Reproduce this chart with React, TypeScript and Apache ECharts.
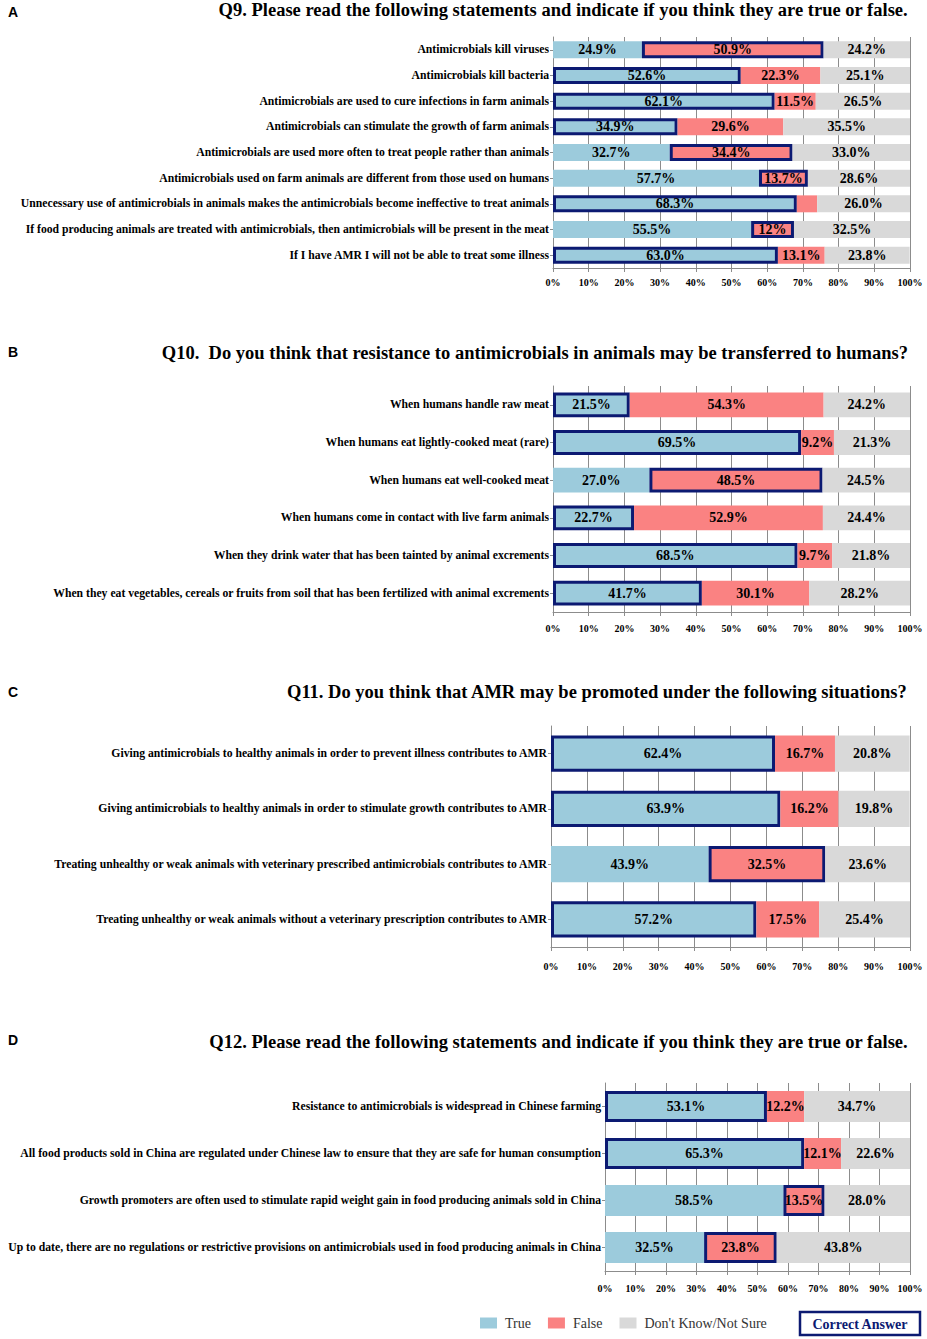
import React, { useEffect, useRef } from "react";
import * as echarts from "echarts";

// ---------- DATA ----------
const q9Categories = [
  "Antimicrobials kill viruses",
  "Antimicrobials kill bacteria",
  "Antimicrobials are used to cure infections in farm animals",
  "Antimicrobials can stimulate the growth of farm animals",
  "Antimicrobials are used more often to treat people rather than animals",
  "Antimicrobials used on farm animals are different from those used on humans",
  "Unnecessary use of antimicrobials in animals makes the antimicrobials become ineffective to treat animals",
  "If food producing animals are treated with antimicrobials, then antimicrobials will be present in the meat",
  "If I have AMR I will not be able to treat some illness",
];
const q9True = [24.9, 52.6, 62.1, 34.9, 32.7, 57.7, 68.3, 55.5, 63.0];
const q9False = [50.9, 22.3, 11.5, 29.6, 34.4, 13.7, 5.7, 12.0, 13.1];
const q9Unsure = [24.2, 25.1, 26.5, 35.5, 33.0, 28.6, 26.0, 32.5, 23.8];
const q9Correct = ["False", "True", "True", "True", "False", "False", "True", "False", "True"];
// label text overrides for the False series of Q9 (null = default)
const q9FalseLabelText = [null, null, null, null, null, null, "", "12%", null];

const q10Categories = [
  "When humans handle raw meat",
  "When humans eat lightly-cooked meat (rare)",
  "When humans eat well-cooked meat",
  "When humans come in contact with live farm animals",
  "When they drink water that has been tainted by animal excrements",
  "When they eat vegetables, cereals or fruits from soil that has been fertilized with animal excrements",
];
const q10True = [21.5, 69.5, 27.0, 22.7, 68.5, 41.7];
const q10False = [54.3, 9.2, 48.5, 52.9, 9.7, 30.1];
const q10Unsure = [24.2, 21.3, 24.5, 24.4, 21.8, 28.2];
const q10Correct = ["True", "True", "False", "True", "True", "True"];

const q11Categories = [
  "Giving antimicrobials to healthy animals in order to prevent illness contributes to AMR",
  "Giving antimicrobials to healthy animals in order to stimulate growth contributes to AMR",
  "Treating unhealthy or weak animals with veterinary prescribed antimicrobials contributes to AMR",
  "Treating unhealthy or weak animals without a veterinary prescription contributes to AMR",
];
const q11True = [62.4, 63.9, 43.9, 57.2];
const q11False = [16.7, 16.2, 32.5, 17.5];
const q11Unsure = [20.8, 19.8, 23.6, 25.4];
const q11Correct = ["True", "True", "False", "True"];

const q12Categories = [
  "Resistance to antimicrobials is widespread in Chinese farming",
  "All food products sold in China are regulated under Chinese law to ensure that they are safe for human consumption",
  "Growth promoters are often used to stimulate rapid weight gain in food producing animals sold in China",
  "Up to date, there are no regulations or restrictive provisions on antimicrobials used in food producing animals in China",
];
const q12True = [53.1, 65.3, 58.5, 32.5];
const q12False = [12.2, 12.1, 13.5, 23.8];
const q12Unsure = [34.7, 22.6, 28.0, 43.8];
const q12Correct = ["True", "True", "False", "False"];

const titles = [
  "Q9. Please read the following statements and indicate if you think they are true or false.",
  "Q10.  Do you think that resistance to antimicrobials in animals may be transferred to humans?",
  "Q11. Do you think that AMR may be promoted under the following situations?",
  "Q12. Please read the following statements and indicate if you think they are true or false.",
];
const panelLetters = ["A", "B", "C", "D"];
const responseNames = ["True", "False", "Don't Know/Not Sure"];
const xTicks = [0, 10, 20, 30, 40, 50, 60, 70, 80, 90, 100];

// ---------- STYLE ----------
const COLORS = ["#9ccbdc", "#fa8282", "#d9d9d9"];
const NAVY = "#0c1a72";
const SERIF = "'Liberation Serif', 'Times New Roman', serif";

const panels = [
  { cats: q9Categories, vals: [q9True, q9False, q9Unsure], correct: q9Correct, left: 553, top: 37, height: 231, titleTop: 0, letterTop: 5, labelMargin: 9 },
  { cats: q10Categories, vals: [q10True, q10False, q10Unsure], correct: q10Correct, left: 553, top: 386, height: 226, titleTop: 343, letterTop: 345, labelMargin: 11 },
  { cats: q11Categories, vals: [q11True, q11False, q11Unsure], correct: q11Correct, left: 551, top: 726, height: 221, titleTop: 682, letterTop: 685, labelMargin: 14 },
  { cats: q12Categories, vals: [q12True, q12False, q12Unsure], correct: q12Correct, left: 605, top: 1083, height: 188, titleTop: 1032, letterTop: 1033, labelMargin: 12 },
];

export default function App() {
  const ref = useRef<HTMLDivElement>(null);
  useEffect(() => {
    if (!ref.current) return;
    const chart = echarts.init(ref.current, null, { renderer: "svg" });

    const grids: any[] = [];
    const xAxes: any[] = [];
    const yAxes: any[] = [];
    const series: any[] = [];
    const titleOpts: any[] = [];
    const graphics: any[] = [];

    panels.forEach((p, i) => {
      grids.push({ left: p.left, right: 17, top: p.top, height: p.height, containLabel: false });
      xAxes.push({
        type: "value",
        gridIndex: i,
        min: 0,
        max: 100,
        interval: 10,
        axisLine: { show: true, lineStyle: { color: "#8c8c8c" } },
        axisTick: { show: true, length: 4, lineStyle: { color: "#8c8c8c" } },
        splitLine: { show: true, lineStyle: { color: "#8c8c8c", width: 1 } },
        axisLabel: {
          margin: p.labelMargin,
          formatter: (v: number) => (xTicks.includes(v) ? v + "%" : ""),
          fontFamily: SERIF,
          fontWeight: "bold",
          fontSize: 10,
          color: "#000",
        },
      });
      yAxes.push({
        type: "category",
        gridIndex: i,
        inverse: true,
        data: p.cats,
        axisLine: { show: true, lineStyle: { color: "#8c8c8c" } },
        axisTick: { show: true, length: 3, alignWithLabel: true, lineStyle: { color: "#8c8c8c" } },
        axisLabel: {
          margin: 4,
          fontFamily: SERIF,
          fontWeight: "bold",
          fontSize: 11.7,
          color: "#000",
        },
      });
      p.vals.forEach((vals, k) => {
        const name = responseNames[k];
        series.push({
          type: "bar",
          name,
          xAxisIndex: i,
          yAxisIndex: i,
          stack: "s" + i,
          barCategoryGap: "34%",
          itemStyle: { color: COLORS[k] },
          label: {
            show: true,
            position: "inside",
            fontFamily: SERIF,
            fontWeight: "bold",
            fontSize: 14,
            color: "#000",
            formatter: (pp: any) => pp.value.toFixed(1) + "%",
          },
          data: vals.map((v, j) => {
            const item: any = { value: v };
            if (p.correct[j] === name) {
              item.itemStyle = { color: COLORS[k], borderColor: NAVY, borderWidth: 3 };
            }
            if (i === 0 && k === 1 && q9FalseLabelText[j] !== null) {
              const t = q9FalseLabelText[j] as string;
              item.label = t === "" ? { show: false } : { formatter: t };
            }
            return item;
          }),
        });
      });
      titleOpts.push({
        text: titles[i],
        right: 19,
        top: p.titleTop,
        padding: 0,
        textStyle: { fontFamily: SERIF, fontWeight: "bold", fontSize: 18.5, color: "#000" },
      });
      graphics.push({
        type: "text",
        left: 8,
        top: p.letterTop,
        style: { text: panelLetters[i], font: "bold 14px 'Liberation Sans', Arial, sans-serif", fill: "#000" },
      });
    });

    graphics.push({
      type: "rect",
      shape: { x: 800, y: 1312, width: 120, height: 23 },
      style: { fill: "#fff", stroke: NAVY, lineWidth: 2.5 },
    });
    graphics.push({
      type: "text",
      x: 860,
      y: 1324,
      style: {
        text: "Correct Answer",
        font: "bold 14px " + SERIF,
        fill: NAVY,
        align: "center",
        verticalAlign: "middle",
      },
    });

    chart.setOption({
      animation: false,
      backgroundColor: "#fff",
      title: titleOpts,
      grid: grids,
      xAxis: xAxes,
      yAxis: yAxes,
      series,
      legend: {
        data: responseNames,
        left: 480,
        top: 1316,
        icon: "rect",
        itemWidth: 17,
        itemHeight: 11,
        itemGap: 17,
        padding: 0,
        textStyle: { fontFamily: SERIF, fontSize: 14, color: "#333", padding: [0, 0, 0, 3] },
        selectedMode: false,
      },
      graphic: graphics,
    });
    return () => chart.dispose();
  }, []);
  return <div ref={ref} style={{ position: "fixed", left: 0, top: 0, width: 927, height: 1339 }} />;
}
